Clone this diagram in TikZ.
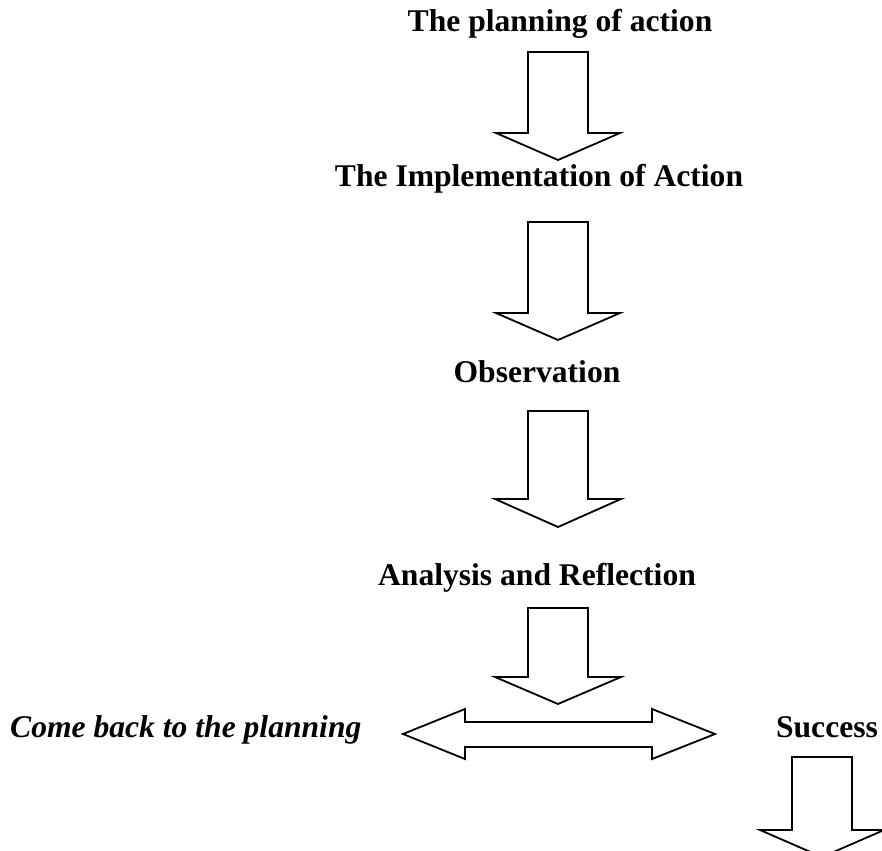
\documentclass[tikz,border=0pt]{standalone}
\usepackage{fontspec}
\setmainfont{Liberation Serif}
\tikzset{
  steptext/.style={font=\fontsize{31.6}{38}\selectfont\bfseries, anchor=base, inner sep=0pt},
  blockarrow/.style={draw, line width=1.8pt, line join=miter, fill=white},
}
\begin{document}
\begin{tikzpicture}[x=1pt,y=-1pt]
\clip (0,0) rectangle (882,850);

\node[steptext] (plan) at (560,32)  {The planning of action};
\node[steptext] (impl) at (539,187) {The Implementation of Action};
\node[steptext] (obs)  at (537,382) {Observation};
\node[steptext] (anal) at (537,585) {Analysis and Reflection};
\node[steptext, font=\fontsize{31.6}{38}\selectfont\bfseries\itshape, anchor=base west] (back) at (10,737) {Come back to the planning};
\node[steptext] (succ) at (827,737) {Success};

\draw[blockarrow] (528,52)  -- (588,52)  -- (588,133) -- (620,133) -- (558,160) -- (496,133) -- (528,133) -- cycle;
\draw[blockarrow] (528,222) -- (588,222) -- (588,313) -- (620,313) -- (558,340) -- (496,313) -- (528,313) -- cycle;
\draw[blockarrow] (528,411) -- (588,411) -- (588,499) -- (621,499) -- (558,527) -- (495,499) -- (528,499) -- cycle;
\draw[blockarrow] (528,608) -- (588,608) -- (588,677) -- (621,677) -- (558,704) -- (495,677) -- (528,677) -- cycle;

\draw[blockarrow] (403,734) -- (465,709) -- (465,722) -- (652,722) -- (652,709) -- (715,734)
  -- (652,759) -- (652,747) -- (465,747) -- (465,759) -- cycle;

\draw[blockarrow] (792,757) -- (852,757) -- (852,830) -- (884,830) -- (822,857) -- (760,830) -- (792,830) -- cycle;
\end{tikzpicture}
\end{document}
